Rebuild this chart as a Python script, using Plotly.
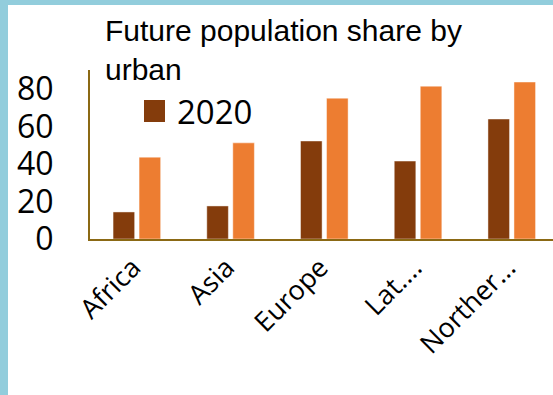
import plotly.graph_objects as go

categories = ["Africa", "Asia", "Europe", "Lat....", "Norther..."]
series_brown = [14.4, 17.6, 52.2, 41.5, 63.9]
series_orange = [43.6, 51.2, 75.0, 81.4, 83.6]
legend_label = "2020"
title_text = "Future population share by<br>urban"
y_ticks = [0, 20, 40, 60, 80]

W, H = 553, 395
ML, MR, MT, MB = 90, 0, 70, 156
PW, PH = W - ML - MR, H - MT - MB

def px_x(x):
    return (x - ML) / PW

def px_y(y):
    return (H - MB - y) / PH

BROWN = "#843C0C"
ORANGE = "#ED7D31"
AXIS = "#8B6914"
BLUE = "#92CDDC"

fig = go.Figure()
fig.add_trace(go.Bar(x=categories, y=series_brown, name=legend_label,
                     marker=dict(color=BROWN, line=dict(color="rgba(255,255,255,0.45)", width=1)),
                     showlegend=False))
fig.add_trace(go.Bar(x=categories, y=series_orange, name="2050",
                     marker=dict(color=ORANGE, line=dict(color="rgba(255,255,255,0.45)", width=1)),
                     showlegend=False))

shapes = [
    dict(type="rect", xref="paper", yref="paper", x0=px_x(0), x1=px_x(8), y0=px_y(H), y1=px_y(0),
         fillcolor=BLUE, line=dict(width=0), layer="above"),
    dict(type="rect", xref="paper", yref="paper", x0=px_x(0), x1=px_x(W), y0=px_y(5), y1=px_y(0),
         fillcolor=BLUE, line=dict(width=0), layer="above"),
    dict(type="rect", xref="paper", yref="paper", x0=px_x(144), x1=px_x(165), y0=px_y(122), y1=px_y(100),
         fillcolor=BROWN, line=dict(width=0)),
]

fig.update_layout(
    width=W, height=H,
    margin=dict(l=ML, r=MR, t=MT, b=MB, pad=0),
    paper_bgcolor="white", plot_bgcolor="white",
    barmode="group", bargap=0.445, bargroupgap=0.17,
    showlegend=False,
    title=dict(text=title_text, x=105 / W, xref="container", xanchor="left",
               y=1 - 41 / H, yref="container", yanchor="top",
               font=dict(family="Liberation Sans, Arial", size=30, color="black")),
    shapes=shapes,
    annotations=[dict(text=legend_label, xref="paper", yref="paper", x=px_x(175), y=px_y(111),
                      xanchor="left", yanchor="middle", showarrow=False,
                      font=dict(family="Open Sans", size=33, color="black"))],
)
fig.update_xaxes(type="category", range=[-0.5, 4.44], showline=True, linecolor=AXIS, linewidth=2,
                 showgrid=False, ticks="", tickangle=-45, ticklabelshift=-4,
                 tickfont=dict(family="Open Sans", size=27, color="black"))
fig.update_yaxes(range=[0, 90], tickvals=y_ticks, showline=True, linecolor=AXIS, linewidth=2,
                 showgrid=False, zeroline=False, ticks="", ticklabelstandoff=28,
                 tickfont=dict(family="Open Sans", size=32, color="black"))

fig.write_html("out.html", config={"displayModeBar": False})
